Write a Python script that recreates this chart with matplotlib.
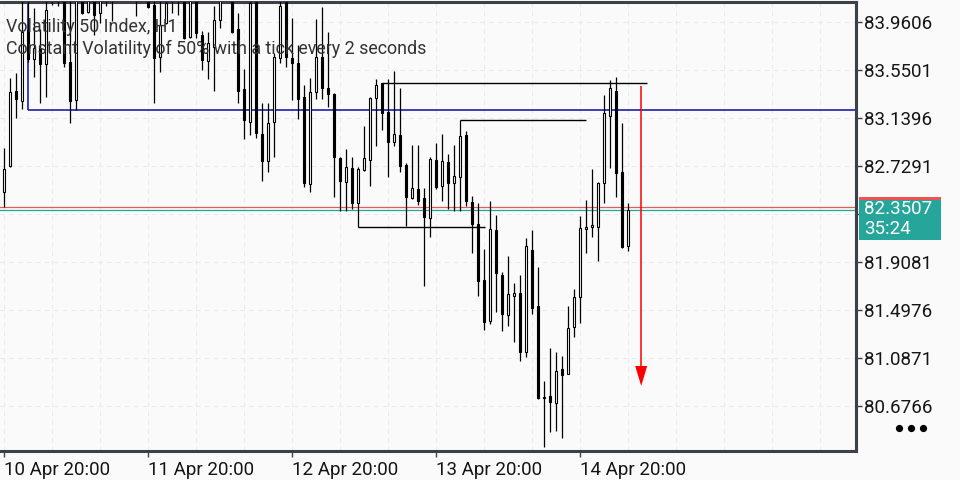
import matplotlib
matplotlib.use("Agg")
import matplotlib.pyplot as plt
from matplotlib.patches import Rectangle
from matplotlib.lines import Line2D
import numpy as np

plt.rcParams['font.family'] = ['Roboto', 'DejaVu Sans']

# ---------------- data (H1 candles, Volatility 50 Index) ----------------
opens = [82.507, 82.729, 83.370, 83.285, 83.892, 83.644, 83.738, 83.601, 84.350, 84.250,
         84.400, 83.618, 83.294, 84.300, 84.046, 84.250, 84.038, 84.200, 84.300, 84.200,
         84.400, 84.500, 84.400, 84.300, 84.350, 84.106, 83.661, 83.952, 84.300, 84.200,
         84.200, 83.832, 84.250, 83.849, 83.627, 83.747, 83.978, 84.300, 84.300, 83.901,
         83.388, 83.105, 84.150, 83.003, 82.772, 83.105, 83.653, 84.150, 83.653, 83.610,
         83.319, 82.575, 83.362, 83.661, 83.396, 83.345, 82.798, 82.592, 82.712, 82.413,
         82.695, 82.780, 83.311, 83.439, 83.191, 82.934, 82.994, 82.738, 82.455, 82.532,
         82.455, 82.284, 82.780, 82.558, 82.763, 82.584, 82.635, 82.994, 82.421, 82.233,
         81.754, 81.403, 82.182, 81.797, 81.455, 81.617, 81.643, 81.138, 82.011, 81.532,
         80.756, 80.762, 80.702, 80.993, 80.950, 81.352, 81.609, 82.190, 82.207, 82.207,
         82.584, 83.157, 83.370, 82.678, 82.045]
highs = [82.883, 83.482, 83.524, 84.250, 84.250, 84.080, 83.901, 84.250, 84.500, 84.550,
         84.450, 84.200, 84.300, 84.450, 84.300, 84.350, 84.300, 84.400, 84.450, 84.500,
         84.600, 84.650, 84.550, 84.500, 84.450, 84.200, 84.200, 84.250, 84.400, 84.450,
         84.300, 84.250, 84.350, 83.884, 83.875, 84.100, 84.250, 84.500, 84.400, 84.038,
         83.559, 84.250, 84.300, 83.268, 83.268, 83.696, 84.250, 84.300, 83.995, 83.764,
         83.422, 83.482, 83.986, 84.089, 83.875, 83.354, 82.806, 82.874, 82.806, 82.720,
         83.071, 83.319, 83.473, 83.439, 83.473, 83.541, 83.396, 82.755, 82.909, 82.909,
         82.541, 82.806, 82.926, 83.003, 82.832, 82.909, 83.122, 83.028, 82.472, 82.413,
         82.019, 82.430, 82.310, 81.823, 81.959, 81.728, 81.797, 82.113, 82.182, 81.865,
         80.890, 81.172, 81.138, 81.104, 81.532, 81.677, 82.301, 82.438, 82.703, 82.592,
         83.336, 83.465, 83.490, 83.097, 82.413]
lows = [82.378, 82.720, 83.140, 83.217, 83.618, 83.490, 83.268, 83.319, 84.106, 84.097,
        83.576, 83.097, 83.208, 84.029, 84.040, 83.849, 83.952, 84.097, 83.969, 84.160,
        84.250, 84.250, 84.012, 84.180, 84.080, 83.268, 83.533, 83.943, 84.038, 84.020,
        83.815, 83.823, 83.823, 83.550, 83.473, 83.370, 83.909, 84.200, 83.866, 83.268,
        82.960, 82.994, 82.969, 82.601, 82.678, 82.806, 83.610, 83.576, 83.294, 83.131,
        82.549, 82.507, 83.302, 83.302, 83.234, 82.464, 82.344, 82.344, 82.361, 82.207,
        82.686, 82.558, 82.900, 83.037, 82.635, 82.900, 82.678, 82.216, 82.447, 82.396,
        81.703, 82.122, 82.532, 82.430, 82.361, 82.344, 82.344, 82.387, 81.985, 81.617,
        81.327, 81.378, 81.481, 81.318, 81.361, 81.224, 81.061, 81.096, 81.463, 80.737,
        80.326, 80.454, 80.463, 80.403, 80.950, 81.267, 81.386, 81.985, 82.122, 81.917,
        82.413, 82.712, 82.464, 82.028, 82.002]
closes = [82.703, 83.362, 83.302, 83.875, 83.644, 83.738, 83.601, 84.060, 84.250, 84.400,
          83.610, 83.285, 84.180, 84.038, 84.200, 84.020, 84.200, 84.300, 84.200, 84.400,
          84.500, 84.400, 84.300, 84.350, 84.089, 83.653, 83.935, 84.120, 84.200, 84.300,
          83.823, 84.150, 83.866, 83.636, 83.781, 83.978, 84.150, 84.400, 83.875, 83.370,
          83.122, 84.120, 83.011, 82.772, 83.097, 83.661, 84.100, 83.661, 83.610, 83.302,
          82.584, 83.362, 83.661, 83.396, 83.345, 82.806, 82.601, 82.720, 82.413, 82.703,
          82.797, 83.311, 83.422, 83.182, 82.934, 83.003, 82.729, 82.464, 82.541, 82.430,
          82.293, 82.789, 82.549, 82.772, 82.584, 82.644, 82.985, 82.430, 82.233, 81.746,
          81.395, 82.190, 81.814, 81.463, 81.634, 81.643, 81.138, 82.045, 81.515, 80.745,
          80.745, 80.711, 80.976, 80.942, 81.344, 81.609, 82.199, 82.207, 82.224, 82.584,
          83.182, 83.396, 82.669, 82.036, 82.3507]

price_ticks = [83.9606, 83.5501, 83.1396, 82.7291, 82.3186, 81.9081, 81.4976, 81.0871, 80.6766]
price_tick_labels = ["83.9606", "83.5501", "83.1396", "82.7291", "", "81.9081", "81.4976", "81.0871", "80.6766"]
time_tick_idx = [0, 24, 48, 72, 96]
time_tick_labels = ["10 Apr 20:00", "11 Apr 20:00", "12 Apr 20:00", "13 Apr 20:00", "14 Apr 20:00"]

bid_price = 82.3507
ask_price = 82.376
timer_text = "35:24"
title_line1 = "Volatility 50 Index, H1"
title_line2 = "Constant Volatility of 50% with a tick every 2 seconds"

# user drawn objects
blue_level = 83.208
blue_start = 4
hlines_level = [83.439, 83.122, 82.207]
hlines_start = [63, 76, 59]
hlines_end = [107.2, 97.0, 80.2]
arrow_x = 106.2
arrow_top = 83.413
arrow_tip = 80.848
arrow_head_len = 0.171
arrow_head_half = 1.0

# ---------------- drawing ----------------
BG = '#fafafa'
FRAME = '#3c4049'
fig = plt.figure(figsize=(9.6, 4.8), dpi=100, facecolor=BG)
ax = fig.add_axes([0, 29 / 480, 856 / 960, 449 / 480])
ax.set_facecolor(BG)

n = len(opens)
idx = np.arange(n)
o = np.array(opens); h = np.array(highs); l = np.array(lows); c = np.array(closes)

ax.set_xlim(-4 / 6, 852 / 6)
ax.set_ylim(80.2918, 84.1316)

# grid
ax.set_yticks(price_ticks)
ax.set_yticklabels(price_tick_labels)
ax.set_xticks(time_tick_idx)
ax.set_xticklabels(time_tick_labels, ha='left')
ax.set_xticks(np.arange(0, 142, 8), minor=True)
ax.grid(which='both', axis='x', color='#eaeaea', linestyle=(0, (4, 4)), linewidth=0.8)
ax.grid(which='major', axis='y', color='#eaeaea', linestyle=(0, (4, 4)), linewidth=0.8)
ax.set_axisbelow(True)

# current price lines
ax.axhline(ask_price, color='#e35d5a', linewidth=0.9, zorder=1)
ax.axhline(bid_price, color='#26a69a', linewidth=0.9, zorder=1)

# blue object
ax.hlines(blue_level, blue_start, 142, color='#0c0ca3', linewidth=1.1, zorder=2)
ax.vlines(blue_start, blue_level, 84.2, color='#0c0ca3', linewidth=1.1, zorder=2)

# black level lines
ax.hlines(hlines_level, hlines_start, hlines_end, color='black', linewidth=1.0, zorder=2)

# candles
ax.vlines(idx, l, h, color='black', linewidth=0.9, zorder=3)
bull = c >= o
face = np.where(bull, BG, 'black')
ax.bar(idx, np.abs(c - o), bottom=np.minimum(o, c), width=0.4,
       color=face, edgecolor='black', linewidth=0.8, zorder=4)

# red arrow
ax.vlines(arrow_x, arrow_tip + arrow_head_len, arrow_top, color='#ff0000', linewidth=1.1, zorder=5)
ax.fill([arrow_x - arrow_head_half, arrow_x + arrow_head_half, arrow_x],
        [arrow_tip + arrow_head_len, arrow_tip + arrow_head_len, arrow_tip],
        color='#ff0000', zorder=5, linewidth=0)

# spines / ticks
for s in ['top', 'right', 'bottom']:
    ax.spines[s].set_color(FRAME)
    ax.spines[s].set_linewidth(2.2)
ax.spines['left'].set_visible(False)
ax.yaxis.tick_right()
ax.tick_params(axis='y', which='major', length=4, width=1, color=FRAME, pad=1.5,
               labelsize=13.5, labelcolor='#151515', left=False, right=True)
ax.tick_params(axis='x', which='major', length=4, width=1, color=FRAME, pad=3,
               labelsize=13.5, labelcolor='#151515')
ax.tick_params(axis='x', which='minor', length=0)

# titles
fig.text(6 / 960, 1 - 32 / 480, title_line1, fontsize=12.9, color='#333333', va='baseline', ha='left')
fig.text(6 / 960, 1 - 54 / 480, title_line2, fontsize=12.9, color='#333333', va='baseline', ha='left')

# price label box
fig.add_artist(Rectangle((859 / 960, 1 - 240 / 480), 82 / 960, 41 / 480,
                         transform=fig.transFigure, facecolor='#26a69a', edgecolor='none', zorder=5))
fig.add_artist(Rectangle((859 / 960, 1 - 199.5 / 480), 82 / 960, 2.5 / 480,
                         transform=fig.transFigure, facecolor='#ef5350', edgecolor='none', zorder=5))
fig.text(864 / 960, 1 - 209 / 480, f"{bid_price:.4f}", fontsize=13.5, color='white', va='center', ha='left', zorder=6)
fig.text(864 / 960, 1 - 229 / 480, timer_text, fontsize=13.5, color='white', va='center', ha='left', zorder=6)

# three dots
fig.add_artist(Line2D([899 / 960, 911 / 960, 923 / 960], [1 - 428 / 480] * 3, transform=fig.transFigure,
                      linestyle='none', marker='o', markersize=4.2, color='black'))

fig.savefig('out.png', dpi=100, facecolor=BG)
